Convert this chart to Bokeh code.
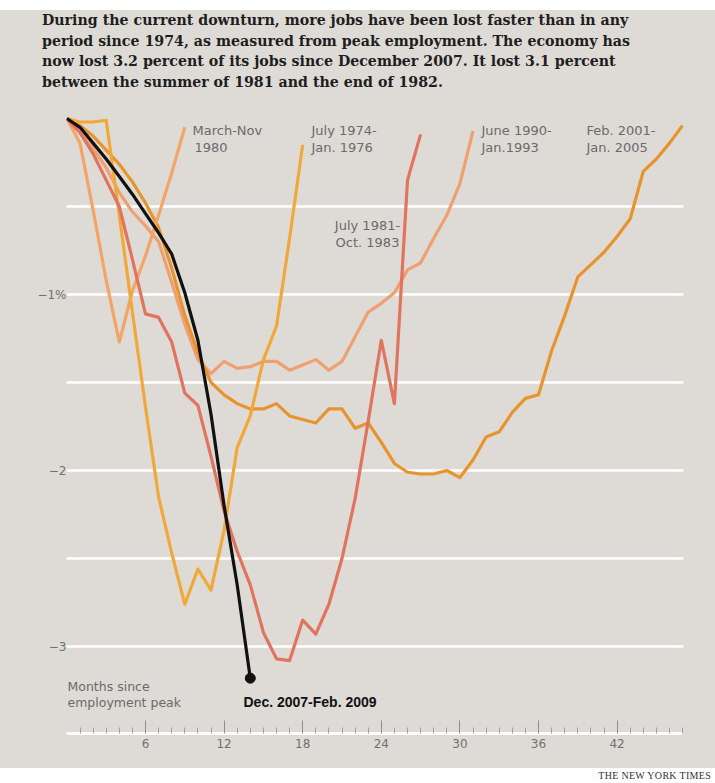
from bokeh.plotting import figure
from bokeh.models import Range1d, FixedTicker, Label, Div
from bokeh.layouts import column
from bokeh.embed import file_html
from bokeh.resources import INLINE

# ---------------- data (percent change in payroll jobs from peak) ----------------
recess_2007 = [0, -0.05, -0.14, -0.23, -0.33, -0.43, -0.54, -0.65, -0.77, -0.99,
               -1.26, -1.68, -2.2, -2.65, -3.18]
recess_1974 = [0, -0.02, -0.02, -0.01, -0.55, -1.1, -1.64, -2.15, -2.47, -2.76,
               -2.56, -2.68, -2.34, -1.87, -1.69, -1.37, -1.18, -0.68, -0.15]
recess_1980 = [0, -0.14, -0.52, -0.92, -1.27, -0.98, -0.78, -0.55, -0.31, -0.05]
recess_1981 = [0, -0.08, -0.2, -0.35, -0.5, -0.8, -1.11, -1.13, -1.27, -1.56,
               -1.63, -1.92, -2.23, -2.46, -2.65, -2.92, -3.07, -3.08, -2.85, -2.93,
               -2.76, -2.5, -2.16, -1.72, -1.26, -1.62, -0.35, -0.09]
recess_1990 = [0, -0.08, -0.17, -0.28, -0.42, -0.53, -0.61, -0.70, -0.93, -1.17,
               -1.37, -1.45, -1.38, -1.42, -1.41, -1.38, -1.38, -1.43, -1.40, -1.37,
               -1.43, -1.38, -1.24, -1.10, -1.05, -0.99, -0.86, -0.82, -0.68, -0.55,
               -0.37, -0.07]
recess_2001 = [0, -0.04, -0.1, -0.18, -0.26, -0.36, -0.48, -0.62, -0.85, -1.12,
               -1.33, -1.5, -1.57, -1.62, -1.65, -1.65, -1.62, -1.69, -1.71, -1.73,
               -1.65, -1.65, -1.76, -1.73, -1.84, -1.96, -2.01, -2.02, -2.02, -2.0,
               -2.04, -1.94, -1.81, -1.78, -1.67, -1.59, -1.57, -1.32, -1.12, -0.9,
               -0.83, -0.76, -0.67, -0.57, -0.3, -0.23, -0.14, -0.04]

x_ticks = [6, 12, 18, 24, 30, 36, 42]
y_grid = [-3, -2.5, -2, -1.5, -1, -0.5]
y_tick_labels = {-1: "\u22121%", -2: "\u22122", -3: "\u22123"}

title_lines = [
    "During the current downturn, more jobs have been lost faster than in any",
    "period since 1974, as measured from peak employment. The economy has",
    "now lost 3.2 percent of its jobs since December 2007. It lost 3.1 percent",
    "between the summer of 1981 and the end of 1982.",
]

# ---------------- styling ----------------
BG = "#dedbd6"
C1974 = "#f0a83a"
C1980 = "#f3a466"
C1981 = "#e0745e"
C1990 = "#eea072"
C2001 = "#e8942e"
SANS = "DejaVu Sans"
WHITE_TOP = 10      # white band above the grey panel (page px)
FIG_TOP = 100       # page y where the figure starts


def mx(px):
    """page x pixel -> months"""
    return (px - 66.4) / 13.1


def vy(py):
    """page y pixel -> percent"""
    return (118 - py) / 176


title_div = Div(
    text="<br>".join(title_lines), width=715, height=FIG_TOP, margin=0,
    styles={"background-color": BG, "border-top": f"{WHITE_TOP}px solid white",
            "font-family": "DejaVu Serif", "font-weight": "bold",
            "font-size": "14.2px", "line-height": "20.5px", "color": "#1e1e1e",
            "padding-left": "42px", "padding-top": "0px",
            "box-sizing": "border-box", "width": "715px",
            "height": f"{FIG_TOP}px", "white-space": "nowrap"})

p = figure(width=715, height=768 - FIG_TOP, output_backend="svg",
           toolbar_location=None,
           x_range=Range1d(mx(66), mx(683)),
           y_range=Range1d(vy(733), vy(FIG_TOP + 1)),
           min_border_left=66, min_border_right=32, min_border_top=1,
           min_border_bottom=35)
p.background_fill_color = BG
p.border_fill_color = BG
p.outline_line_color = None

# axes
p.xaxis.ticker = FixedTicker(ticks=x_ticks,
                             minor_ticks=[m for m in range(1, 48) if m % 6])
p.xaxis.bounds = (0, 47)
p.xaxis.axis_line_color = "white"
p.xaxis.axis_line_width = 3
p.xaxis.major_tick_in = 13
p.xaxis.major_tick_out = 0
p.xaxis.minor_tick_in = 6
p.xaxis.minor_tick_out = 0
p.xaxis.major_tick_line_color = "#8f8f8f"
p.xaxis.minor_tick_line_color = "#a0a0a0"
p.xaxis.major_label_text_font = SANS
p.xaxis.major_label_text_font_size = "12px"
p.xaxis.major_label_text_color = "#707070"
p.xaxis.major_label_standoff = 5

p.yaxis.ticker = FixedTicker(ticks=y_grid)
p.yaxis.major_label_overrides = {v: y_tick_labels.get(v, "") for v in y_grid}
p.yaxis.axis_line_color = None
p.yaxis.major_tick_line_color = None
p.yaxis.minor_tick_line_color = None
p.yaxis.major_label_text_font = SANS
p.yaxis.major_label_text_font_size = "12px"
p.yaxis.major_label_text_color = "#707070"
p.yaxis.major_label_standoff = -6

p.xgrid.grid_line_color = None
p.ygrid.ticker = FixedTicker(ticks=y_grid)
p.ygrid.grid_line_color = "white"
p.ygrid.grid_line_width = 2.5

# lines
series = [(recess_1990, C1990), (recess_2001, C2001), (recess_1980, C1980),
          (recess_1974, C1974), (recess_1981, C1981)]
for vals, col in series:
    p.line(list(range(len(vals))), vals, line_color=col, line_width=3.2,
           line_join="round")
p.line(list(range(len(recess_2007))), recess_2007, line_color="#111111",
       line_width=3.2, line_join="round")
p.scatter([len(recess_2007) - 1], [recess_2007[-1]], size=10, color="#111111")


def add_text(px, py, txt, size="13px", color="#6a6a6a", font=SANS,
             style="normal", align="left"):
    p.add_layout(Label(x=mx(px), y=vy(py), text=txt, text_font=font,
                       text_font_size=size, text_color=color,
                       text_font_style=style, text_align=align,
                       text_baseline="middle"))


add_text(192, 130, "March-Nov")
add_text(194, 147, "1980")
add_text(311, 130, "July 1974-")
add_text(311, 147, "Jan. 1976")
add_text(367, 225, "July 1981-", align="center")
add_text(367, 242, "Oct. 1983", align="center")
add_text(481, 130, "June 1990-")
add_text(481, 147, "Jan.1993")
add_text(586, 130, "Feb. 2001-")
add_text(586, 147, "Jan. 2005")
add_text(67, 686, "Months since", size="12.5px")
add_text(67, 702, "employment peak", size="12.5px")
add_text(243, 701, "Dec. 2007-Feb. 2009", size="14px", color="#111111",
         font="Liberation Sans", style="bold")

credit = Div(text="THE NEW YORK TIMES", width=715, height=15, margin=0,
             styles={"text-align": "right", "font-family": "Liberation Serif",
                     "font-size": "10px", "line-height": "15px", "color": "#333",
                     "letter-spacing": "0.3px", "width": "715px",
                     "background-color": "white",
                     "padding-right": "4px", "box-sizing": "border-box"})

layout = column(title_div, p, credit, spacing=0,
                styles={"background-color": BG})
open("out.html", "w").write(file_html(layout, INLINE))
